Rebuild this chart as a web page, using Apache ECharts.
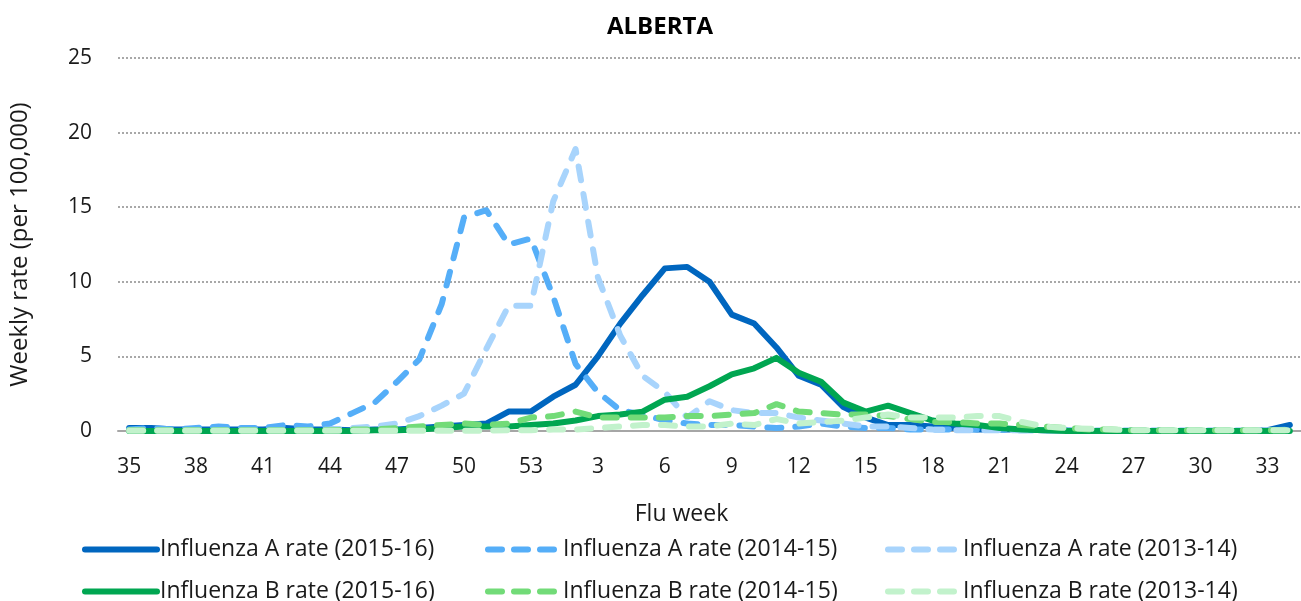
<!DOCTYPE html>
<html>
<head>
<meta charset="utf-8">
<script src="https://cdn.jsdelivr.net/npm/echarts@6/dist/echarts.min.js"></script>
<style>
html,body{margin:0;padding:0;background:#fff;overflow:hidden;}
#c{width:1301px;height:601px;}
</style>
</head>
<body>
<div id="c"></div>
<script>
// Flu weeks 35..53, then 1..34
const weeks = ['35','36','37','38','39','40','41','42','43','44','45','46','47','48','49','50','51','52','53',
  '1','2','3','4','5','6','7','8','9','10','11','12','13','14','15','16','17','18','19','20','21','22','23','24','25','26','27','28','29','30','31','32','33','34'];

const fluA_2015_16 = [0.2,0.2,0.1,0.1,0.1,0.1,0.1,0.2,0.1,0.1,0.05,0.1,0.1,0.2,0.3,0.4,0.5,1.3,1.3,
  2.3,3.1,5.0,7.2,9.1,10.9,11.0,10.0,7.8,7.2,5.6,3.7,3.1,1.6,0.9,0.4,0.4,0.3,0.2,0.1,0.1,0.1,0.05,0.05,0,0,0,0,0,0,0,0,0.05,0.4];

const fluA_2014_15 = [0.1,0.2,0.1,0.2,0.3,0.2,0.2,0.4,0.3,0.5,1.2,1.9,3.3,4.8,8.5,14.3,14.8,12.5,12.9,
  9.0,4.5,2.6,1.4,1.1,0.7,0.5,0.4,0.4,0.3,0.2,0.3,0.5,0.3,0.2,0.2,0.1,0.1,0.1,0.1,0.1,0.05,0.05,0.05,0.05,0.05,0.05,0.05,0.05,0.05,0.05,0.05,0.05,0.1];

const fluA_2013_14 = [0.05,0.05,0.05,0.05,0.05,0.05,0.05,0.05,0.05,0.1,0.2,0.3,0.5,1.0,1.7,2.5,5.5,8.4,8.4,
  15.4,18.9,10.3,6.4,3.7,2.6,0.9,2.0,1.4,1.2,1.2,0.9,0.7,0.5,0.3,0.3,0.2,0.1,0.05,0.05,0.05,0.05,0.05,0.05,0.05,0.05,0.05,0.05,0.05,0.05,0.05,0.05,0.05,0.05];

const fluB_2015_16 = [0,0,0,0,0,0,0,0,0,0,0,0.05,0.05,0.1,0.2,0.3,0.3,0.3,0.4,
  0.5,0.7,1.0,1.1,1.3,2.1,2.3,3.0,3.8,4.2,4.9,3.9,3.3,1.9,1.3,1.7,1.2,0.7,0.5,0.4,0.2,0.1,0.05,0,0,0,0,0,0,0,0,0,0,0];

const fluB_2014_15 = [0.05,0.05,0.05,0.05,0.05,0.05,0.05,0.05,0.05,0.05,0.1,0.1,0.2,0.3,0.4,0.5,0.4,0.5,0.9,
  1.0,1.3,0.9,0.9,0.9,0.9,1.0,1.0,1.1,1.2,1.8,1.3,1.2,1.1,1.1,1.0,0.8,0.6,0.6,0.5,0.5,0.4,0.3,0.2,0.1,0.1,0.05,0.05,0.05,0.05,0.05,0.05,0.05,0.05];

const fluB_2013_14 = [0.02,0.02,0.02,0.02,0.02,0.02,0.02,0.02,0.02,0.02,0.02,0.02,0.02,0.02,0.02,0.02,0.02,0.05,0.05,
  0.1,0.1,0.2,0.3,0.4,0.4,0.3,0.3,0.5,0.4,0.8,0.5,0.6,0.7,0.9,1.1,0.9,0.9,0.9,1.0,1.0,0.6,0.3,0.2,0.15,0.1,0.05,0.05,0.05,0.05,0.05,0.05,0.05,0.05];

const seriesNames = ['Influenza A rate (2015-16)','Influenza A rate (2014-15)','Influenza A rate (2013-14)',
  'Influenza B rate (2015-16)','Influenza B rate (2014-15)','Influenza B rate (2013-14)'];
const seriesData = [fluA_2015_16, fluA_2014_15, fluA_2013_14, fluB_2015_16, fluB_2014_15, fluB_2013_14];
const seriesColors = ['#0066BF','#55AEF8','#A8D4FC','#00A651','#72DB78','#C2F2CC'];
const seriesDashed = [false,true,true,false,true,true];

const FONT = "'Open Sans', Lato, sans-serif";
const chart = echarts.init(document.getElementById('c'), null, {renderer:'canvas'});

const series = seriesNames.map((n,i)=>({
  name:n, type:'line', data:seriesData[i], symbol:'none', showSymbol:false, smooth:false,
  lineStyle:{color:seriesColors[i], width:6, type: seriesDashed[i] ? [14,14] : 'solid', cap:'round', join:'round'},
  itemStyle:{color:seriesColors[i]}
}));

const legendPos = [
  {left:82, top:538}, {left:485, top:538}, {left:885, top:538},
  {left:82, top:580}, {left:485, top:580}, {left:885, top:580}
];
const legends = seriesNames.map((n,i)=>({
  data:[n], left:legendPos[i].left, top:legendPos[i].top, itemWidth:72, itemHeight:20,
  itemStyle:{opacity:0},
  lineStyle:{width:6, cap:'round', type: seriesDashed[i] ? [14,12] : 'solid'},
  textStyle:{fontFamily:FONT, fontSize:23, color:'#1a1a1a', padding:[0,0,0,-2]},
  itemGap:0, padding:0
}));

chart.setOption({
  animation:false,
  backgroundColor:'#fff',
  title:{text:'ALBERTA', left:602, top:10,
    textStyle:{fontFamily:FONT, fontWeight:'bold', fontSize:24, color:'#000'}},
  legend:legends,
  grid:{left:118, width:1195, top:58, bottom:170, containLabel:false},
  xAxis:{type:'category', data:weeks, boundaryGap:true,
    name:'Flu week', nameLocation:'middle', nameGap:72,
    nameTextStyle:{fontFamily:FONT, fontSize:23, color:'#1a1a1a', padding:[0,0,0,-56]},
    axisLine:{lineStyle:{color:'#A6A6A6', width:2}},
    axisTick:{show:false},
    axisLabel:{interval:2, fontFamily:FONT, fontSize:21, color:'#1a1a1a', margin:26},
    splitLine:{show:false}
  },
  yAxis:{type:'value', min:0, max:25, interval:5,
    name:'Weekly rate (per 100,000)', nameLocation:'middle', nameGap:86,
    nameTextStyle:{fontFamily:FONT, fontSize:24, color:'#1a1a1a'},
    axisLine:{show:false}, axisTick:{show:false},
    axisLabel:{fontFamily:FONT, fontSize:21, color:'#1a1a1a', margin:26},
    splitLine:{lineStyle:{color:'#8c8c8c', width:1.5, type:[2,2]}}
  },
  series:series
});
</script>
</body>
</html>
